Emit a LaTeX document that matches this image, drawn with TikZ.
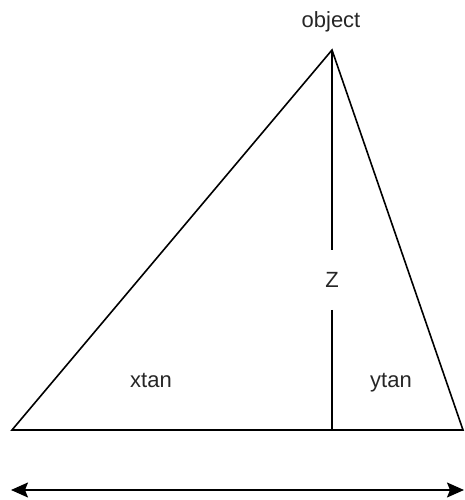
\documentclass[tikz,border=0pt]{standalone}
\usepackage{fontspec}
\setmainfont{Liberation Sans}
\usetikzlibrary{arrows.meta}
\begin{document}
\begin{tikzpicture}[x=1pt,y=1pt,
  edge/.style={line width=1.6pt,black},
  lbl/.style={font=\fontsize{22}{26}\selectfont,anchor=base,inner sep=0pt,text=black!85}]
\useasboundingbox (0,0) rectangle (464,500);
\coordinate (apex) at (332,450);
\coordinate (L) at (12,70);
\coordinate (R) at (463,70);
\coordinate (F) at (332,70);
\coordinate (zt) at (332,250);
\coordinate (zb) at (332,190);
\coordinate (aL) at (11,10);
\coordinate (aR) at (464,10);
\draw[edge,line join=miter] (L) -- (apex) -- (R) -- cycle;
\draw[edge] (apex) -- (zt);
\draw[edge] (zb) -- (F);
\draw[edge,{Stealth[length=17pt,width=15pt,inset=3pt]}-{Stealth[length=17pt,width=15pt,inset=3pt]}] (aL) -- (aR);
\node[lbl] (obj) at (331,472) {object};
\node[lbl] (z) at (332,212) {Z};
\node[lbl] (xtan) at (151,112) {xtan};
\node[lbl] (ytan) at (391,112) {ytan};
\end{tikzpicture}
\end{document}
